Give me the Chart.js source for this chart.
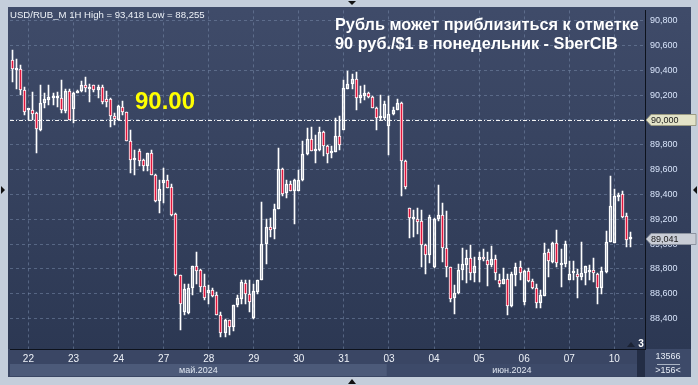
<!DOCTYPE html>
<html>
<head>
<meta charset="utf-8">
<script src="https://cdn.jsdelivr.net/npm/chart.js@4.4.1/dist/chart.umd.min.js"></script>
<style>
html, body { margin: 0; padding: 0; background: #c4cedb; }
canvas { display: block; }
</style>
</head>
<body>
<canvas id="grafica_usdrub" width="698" height="385"></canvas>
<script>
// USD/RUB_M 1H candles, 21.05 (tail) .. 10.06
const opens = [
 90.480, 90.405, 90.408, 90.240, 90.080, 90.080, 90.053, 89.920, 90.133, 90.160,
 90.179, 90.173, 90.173, 90.072, 90.232, 90.085, 90.219, 90.232, 90.280, 90.253,
 90.280, 90.240, 90.267, 90.165, 90.168, 90.032, 90.000, 90.107, 90.061, 89.827,
 89.680, 89.752, 89.675, 89.627, 89.731, 89.560, 89.347, 89.493, 89.512, 89.459,
 89.240, 88.752, 88.453, 88.445, 88.648, 88.827, 88.787, 88.659, 88.605, 88.627,
 88.587, 88.432, 88.280, 88.387, 88.333, 88.507, 88.560, 88.685, 88.600, 88.405,
 88.613, 88.707, 89.000, 89.139, 89.120, 89.280, 89.605, 89.413, 89.480, 89.427,
 89.427, 89.515, 89.728, 89.848, 89.752, 89.757, 89.899, 89.792, 89.731, 89.741,
 89.867, 89.920, 90.253, 90.293, 90.328, 90.173, 90.195, 90.219, 90.187, 90.099,
 90.013, 90.013, 89.955, 90.045, 90.080, 90.139, 89.672, 89.288, 89.200, 89.200,
 89.187, 88.992, 88.915, 88.813, 89.200, 89.232, 88.968, 88.813, 88.565, 88.605,
 88.787, 88.835, 88.888, 88.765, 88.872, 88.899, 88.872, 88.832, 88.880, 88.712,
 88.680, 88.720, 88.501, 88.752, 88.819, 88.533, 88.779, 88.699, 88.648, 88.528,
 88.581, 88.939, 88.853, 89.008, 88.835, 88.840, 88.712, 88.765, 88.760, 88.733,
 88.768, 88.773, 88.787, 88.760, 88.645, 88.773, 89.013, 89.005, 89.382, 89.400,
 89.227, 89.040
];
const highs = [
 90.560, 90.488, 90.440, 90.267, 90.088, 90.227, 90.067, 90.280, 90.213, 90.280,
 90.213, 90.227, 90.320, 90.253, 90.253, 90.227, 90.240, 90.312, 90.347, 90.293,
 90.285, 90.280, 90.280, 90.232, 90.173, 90.053, 90.120, 90.152, 90.067, 89.915,
 89.760, 89.768, 89.688, 89.736, 89.760, 89.565, 89.512, 89.613, 89.560, 89.480,
 89.248, 88.752, 88.680, 88.680, 88.827, 88.939, 88.800, 88.755, 88.667, 88.645,
 88.613, 88.453, 88.400, 88.392, 88.512, 88.587, 88.707, 88.707, 88.712, 88.680,
 88.712, 89.341, 89.200, 89.213, 89.320, 89.773, 89.613, 89.520, 89.507, 89.528,
 89.600, 89.827, 89.933, 89.947, 89.880, 89.939, 89.907, 89.800, 89.787, 90.013,
 90.035, 90.320, 90.395, 90.373, 90.387, 90.275, 90.280, 90.227, 90.195, 90.107,
 90.200, 90.152, 90.195, 90.107, 90.168, 90.147, 89.680, 89.288, 89.272, 89.288,
 89.272, 89.000, 89.235, 89.213, 89.475, 89.328, 89.267, 88.819, 88.667, 88.840,
 88.968, 88.952, 88.989, 88.893, 88.939, 88.960, 88.933, 88.987, 88.915, 88.755,
 88.808, 88.755, 88.773, 88.848, 88.867, 88.792, 88.808, 88.720, 88.680, 88.627,
 89.008, 88.960, 89.019, 89.115, 88.960, 89.027, 88.861, 88.861, 88.800, 89.019,
 88.827, 88.835, 88.888, 88.765, 88.813, 89.107, 89.547, 89.440, 89.413, 89.427,
 89.248, 89.099
];
const lows = [
 90.307, 90.250, 90.200, 90.040, 90.000, 90.000, 89.733, 89.907, 90.093, 90.120,
 90.120, 90.107, 90.053, 90.053, 90.000, 89.973, 90.213, 90.221, 90.227, 90.147,
 90.227, 90.173, 90.125, 90.107, 89.947, 89.960, 90.000, 90.040, 89.827, 89.573,
 89.560, 89.627, 89.587, 89.587, 89.555, 89.341, 89.253, 89.333, 89.453, 89.227,
 88.739, 88.307, 88.427, 88.440, 88.587, 88.680, 88.613, 88.547, 88.520, 88.573,
 88.427, 88.253, 88.253, 88.267, 88.301, 88.493, 88.520, 88.520, 88.453, 88.400,
 88.600, 88.707, 88.840, 89.053, 89.040, 89.280, 89.387, 89.373, 89.427, 89.165,
 89.427, 89.507, 89.720, 89.747, 89.653, 89.747, 89.707, 89.653, 89.693, 89.741,
 89.760, 89.920, 90.248, 90.253, 90.080, 90.133, 90.160, 90.173, 90.093, 89.920,
 90.000, 90.000, 89.720, 90.040, 90.080, 89.387, 89.440, 89.048, 89.053, 89.080,
 88.813, 88.760, 88.845, 88.808, 89.187, 88.853, 88.733, 88.533, 88.440, 88.600,
 88.707, 88.688, 88.707, 88.693, 88.693, 88.867, 88.659, 88.819, 88.707, 88.653,
 88.675, 88.427, 88.493, 88.659, 88.707, 88.507, 88.693, 88.640, 88.485, 88.485,
 88.581, 88.733, 88.848, 88.819, 88.653, 88.813, 88.707, 88.707, 88.568, 88.707,
 88.672, 88.712, 88.693, 88.520, 88.600, 88.768, 89.013, 89.005, 89.347, 89.213,
 88.973, 88.979
];
const closes = [
 90.408, 90.410, 90.240, 90.061, 90.085, 90.048, 89.928, 90.139, 90.165, 90.187,
 90.192, 90.179, 90.080, 90.232, 90.000, 90.219, 90.235, 90.280, 90.259, 90.259,
 90.240, 90.267, 90.141, 90.141, 90.035, 90.005, 90.115, 90.061, 89.827, 89.680,
 89.688, 89.672, 89.627, 89.731, 89.560, 89.347, 89.440, 89.512, 89.453, 89.235,
 88.747, 88.520, 88.640, 88.648, 88.827, 88.781, 88.653, 88.565, 88.627, 88.581,
 88.427, 88.280, 88.392, 88.333, 88.512, 88.565, 88.693, 88.600, 88.533, 88.621,
 88.707, 89.000, 89.139, 89.112, 89.280, 89.605, 89.405, 89.480, 89.427, 89.512,
 89.520, 89.728, 89.848, 89.752, 89.760, 89.899, 89.792, 89.725, 89.747, 89.867,
 89.800, 90.259, 90.293, 90.328, 90.173, 90.200, 90.219, 90.187, 90.093, 90.013,
 90.019, 90.125, 90.048, 90.080, 90.139, 89.672, 89.459, 89.213, 89.219, 89.181,
 88.992, 88.912, 89.219, 89.200, 89.232, 88.968, 88.813, 88.560, 88.605, 88.787,
 88.840, 88.888, 88.768, 88.827, 88.899, 88.880, 88.832, 88.880, 88.768, 88.680,
 88.720, 88.501, 88.755, 88.819, 88.765, 88.779, 88.699, 88.645, 88.528, 88.587,
 88.928, 88.861, 89.008, 88.848, 88.851, 89.000, 88.760, 88.779, 88.733, 88.768,
 88.827, 88.787, 88.768, 88.645, 88.779, 89.019, 89.307, 89.387, 89.395, 89.219,
 89.032, 89.041
];

// axis labels
const dayLabels = ['22', '23', '24', '27', '28', '29', '30', '31', '03', '04', '05', '06', '07', '10'];
const dayStarts = [4, 15, 26, 37, 48, 59, 70, 81, 92, 103, 114, 125, 136, 147];
const monthLabels = ['май.2024', 'июн.2024'];
const monthStarts = [0, 92];
const priceTicks = [88.4, 88.6, 88.8, 89.0, 89.2, 89.4, 89.6, 89.8, 90.0, 90.2, 90.4, 90.6, 90.8];
const levelPrice = 90.0;
const lastPrice = 89.041;
const totalSlots = 155;

const FONT = "'Liberation Sans', Arial, sans-serif";
const RED = '#e2163d';

//labels del eje x
const labels = [];
for (let i = 0; i < totalSlots; i++) {
	const k = dayStarts.indexOf(i);
	labels.push(k >= 0 ? dayLabels[k] : '');
}

const bodies = opens.map((o, i) => [o, closes[i]]);
const upperWicks = highs.map((h, i) => [Math.max(opens[i], closes[i]), h]);
const lowerWicks = lows.map((l, i) => [l, Math.min(opens[i], closes[i])]);
const bodyColors = opens.map((o, i) => closes[i] < o ? RED : 'rgba(0,0,0,0)');

const fmt = v => v.toFixed(3).replace('.', ',');

function triangle(c, pts) {
	c.beginPath();
	c.moveTo(pts[0], pts[1]);
	c.lineTo(pts[2], pts[3]);
	c.lineTo(pts[4], pts[5]);
	c.closePath();
	c.fill();
}

function priceBox(c, a, y, text, fill, stroke) {
	c.beginPath();
	c.moveTo(a.right + 1, y);
	c.lineTo(a.right + 6, y - 5.5);
	c.lineTo(696, y - 5.5);
	c.lineTo(696, y + 5.5);
	c.lineTo(a.right + 6, y + 5.5);
	c.closePath();
	c.fillStyle = fill;
	c.fill();
	c.strokeStyle = stroke;
	c.lineWidth = 1;
	c.stroke();
	c.fillStyle = '#1a1a1a';
	c.font = '9px ' + FONT;
	c.textAlign = 'left';
	c.textBaseline = 'middle';
	c.fillText(text, a.right + 6, y + 0.5);
}

const decor = {
	id: 'decor',
	beforeDraw(chart) {
		const c = chart.ctx, a = chart.chartArea, xs = chart.scales.x;
		c.save();
		c.fillStyle = '#c4cedb';
		c.fillRect(0, 0, chart.width, chart.height);

		const g = c.createLinearGradient(0, a.top, 0, a.bottom);
		g.addColorStop(0, '#3f4b69');
		g.addColorStop(1, '#2c3853');
		c.fillStyle = g;
		c.fillRect(8, 7, 683, a.bottom - 7);

		// date strip
		c.fillStyle = '#3a4664';
		c.fillRect(8, a.bottom, a.right - 8, 377 - a.bottom);
		const slot = (a.right - a.left) / totalSlots;
		for (let m = 0; m < monthLabels.length; m++) {
			const x0 = m === 0 ? 10 : xs.getPixelForValue(monthStarts[m]) - slot / 2;
			const x1 = m < monthLabels.length - 1 ? xs.getPixelForValue(monthStarts[m + 1]) - slot / 2 : 637;
			c.fillStyle = m % 2 === 0 ? '#4c5a79' : '#3d4a69';
			c.fillRect(x0, 364, x1 - x0, 12);
			c.fillStyle = '#dfe6f0';
			c.font = '9px ' + FONT;
			c.textAlign = 'center';
			c.textBaseline = 'middle';
			c.fillText(monthLabels[m], (x0 + x1) / 2, 370.5);
		}
		c.fillStyle = '#232d45';
		c.fillRect(637, a.bottom, 8, 28);

		// right bottom box
		c.fillStyle = '#3d4a69';
		c.fillRect(a.right, a.bottom, 691 - a.right, 28);
		c.fillStyle = '#e6ecf5';
		c.font = '9px ' + FONT;
		c.textAlign = 'center';
		c.textBaseline = 'middle';
		c.fillText('13566', 668, 357);
		c.fillText('>156<', 668, 371);
		c.fillStyle = '#aab4c4';
		c.fillRect(657, 364, 23, 1);
		c.restore();
	},
	beforeDatasetsDraw(chart) {
		const c = chart.ctx, a = chart.chartArea;
		const y = Math.round(chart.scales.y.getPixelForValue(levelPrice)) + 0.5;
		c.save();
		c.strokeStyle = '#f2f2f2';
		c.lineWidth = 1;
		c.setLineDash([4, 2, 1, 2]);
		c.beginPath();
		c.moveTo(a.left, y);
		c.lineTo(a.right, y);
		c.stroke();
		c.restore();

		// snap candles to whole pixels so they stay crisp
		chart.getSortedVisibleDatasetMetas().forEach(meta => {
			meta.data.forEach(el => {
				el.x = Math.floor(el.x) + 0.5;
				el.y = Math.round(el.y);
				el.base = Math.round(el.base);
			});
		});
	},
	afterDraw(chart) {
		const c = chart.ctx, a = chart.chartArea, ys = chart.scales.y;
		c.save();
		// info
		c.fillStyle = '#eef2f8';
		c.font = '9.6px ' + FONT;
		c.textAlign = 'left';
		c.textBaseline = 'middle';
		c.fillText('USD/RUB_M 1H High = 93,418 Low = 88,255', 10, 15);

		// title
		c.fillStyle = '#ffffff';
		c.font = 'bold 16.3px ' + FONT;
		c.fillText('Рубль может приблизиться к отметке', 335, 26);
		c.fillText('90 руб./$1 в понедельник - SberCIB', 335, 45);

		// level text
		c.fillStyle = '#ffff00';
		c.font = 'bold 24px ' + FONT;
		c.textBaseline = 'alphabetic';
		c.fillText('90.00', 135, 109);

		// count marker
		c.fillStyle = '#1b2233';
		triangle(c, [627, 347, 635, 347, 631, 342]);
		c.fillStyle = '#ffffff';
		c.font = 'bold 10px ' + FONT;
		c.textAlign = 'center';
		c.textBaseline = 'middle';
		c.fillText('3', 641, 344);

		priceBox(c, a, Math.round(ys.getPixelForValue(levelPrice)), fmt(levelPrice), '#e3e3c8', '#9c9c84');
		priceBox(c, a, Math.round(ys.getPixelForValue(lastPrice)), fmt(lastPrice), '#c9cdd6', '#8c93a0');

		// frame arrows
		c.fillStyle = '#111';
		triangle(c, [348, 1, 356, 1, 352, 5]);
		triangle(c, [348, 384, 356, 384, 352, 379]);
		triangle(c, [1, 186, 1, 194, 5, 190]);
		triangle(c, [697, 186, 697, 194, 693, 190]);
		c.restore();
	}
};

document.addEventListener('DOMContentLoaded', () => {
	const canvas = document.getElementById('grafica_usdrub');
	const chart = new Chart(canvas.getContext('2d'), {
		type: 'bar',
		data: {
			labels: labels,
			datasets: [
				{
					label: 'body',
					data: bodies,
					backgroundColor: bodyColors,
					borderColor: '#ffffff',
					borderWidth: 1,
					borderSkipped: false,
					barThickness: 3,
					minBarLength: 2,
					grouped: false
				},
				{
					label: 'upper',
					data: upperWicks,
					backgroundColor: '#ffffff',
					borderWidth: 0,
					barThickness: 1,
					grouped: false
				},
				{
					label: 'lower',
					data: lowerWicks,
					backgroundColor: '#ffffff',
					borderWidth: 0,
					barThickness: 1,
					grouped: false
				}
			]
		},
		options: {
			responsive: false,
			animation: false,
			layout: { padding: { left: 10, top: 8, right: 8, bottom: 8 } },
			plugins: { legend: { display: false }, tooltip: { enabled: false } },
			scales: {
				x: {
					offset: true,
					grid: {
						offset: false,
						drawTicks: false,
						color: c => dayStarts.includes(c.index) ? 'rgba(118,136,168,0.55)' : 'rgba(0,0,0,0)'
					},
					border: { display: true, color: '#0d121c', dash: [3, 3] },
					ticks: {
						autoSkip: false,
						maxRotation: 0,
						minRotation: 0,
						padding: 4,
						color: '#eef2f8',
						font: { family: FONT, size: 10 }
					},
					afterFit: s => { s.height = 28; }
				},
				y: {
					position: 'right',
					min: 88.1544,
					max: 90.8824,
					afterBuildTicks: s => { s.ticks = priceTicks.map(v => ({ value: v })); },
					grid: { drawTicks: false, color: 'rgba(118,136,168,0.55)' },
					border: { display: true, color: '#0d121c', dash: [3, 3] },
					ticks: {
						padding: 5,
						color: '#d8e4fa',
						font: { family: FONT, size: 9 },
						callback: v => fmt(v)
					},
					afterFit: s => { s.width = 45; }
				}
			}
		},
		plugins: [decor]
	});
});
</script>
</body>
</html>
